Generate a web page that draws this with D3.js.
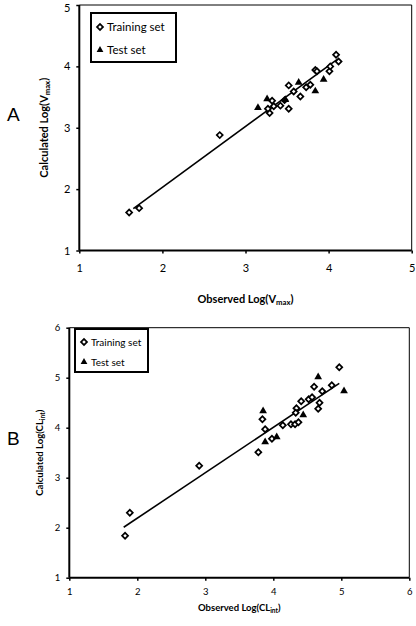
<!DOCTYPE html>
<html><head><meta charset="utf-8">
<script src="https://cdn.jsdelivr.net/npm/d3@7"></script>
<style>body{margin:0;background:#fff}svg{display:block}text{font-family:Lato,"Open Sans",sans-serif;fill:#000}</style>
</head><body><div id="c"></div>
<script>
// ---- Panel A data ----
const aTrainX = [1.60,1.72,2.69,3.29,3.27,3.32,3.34,3.42,3.47,3.52,3.52,3.58,3.66,3.73,3.78,3.84,3.86,4.01,4.02,4.09,4.12];
const aTrainY = [1.62,1.69,2.88,3.24,3.31,3.44,3.35,3.36,3.45,3.31,3.69,3.59,3.51,3.66,3.70,3.94,3.92,3.92,4.00,4.19,4.08];
const aTestX = [3.15,3.26,3.48,3.64,3.84,3.94];
const aTestY = [3.34,3.48,3.47,3.75,3.61,3.80];
const aFit = {slope:0.99, intercept:0.05, x0:1.65, x1:4.10};
const aTicksX = [1,2,3,4,5], aTicksY = [1,2,3,4,5];

// ---- Panel B data ----
const bTrainX = [1.82,1.89,2.91,3.78,3.84,3.88,3.98,4.14,4.26,4.32,4.37,4.34,4.33,4.41,4.52,4.57,4.60,4.66,4.68,4.72,4.86,4.97];
const bTrainY = [1.84,2.30,3.24,3.51,4.17,3.97,3.78,4.05,4.07,4.07,4.11,4.39,4.30,4.53,4.57,4.61,4.82,4.38,4.50,4.73,4.85,5.21];
const bTestX = [3.85,3.88,4.05,4.44,4.66,5.04];
const bTestY = [4.35,3.73,3.83,4.27,5.03,4.75];
const bFit = {slope:0.908, intercept:0.375, x0:1.80, x1:4.97};
const bTicksX = [1,2,3,4,5,6], bTicksY = [1,2,3,4,5,6];

const legendLabels = ["Training set","Test set"];

const svg = d3.select("#c").append("svg").attr("width",416).attr("height",626);

function panel(o){
  const g = svg.append("g");
  const x = d3.scaleLinear().domain(o.domain).range([o.left,o.right]);
  const y = d3.scaleLinear().domain(o.domain).range([o.bottom,o.top]);
  g.append("path").attr("d",`M${o.left},${o.top}H${o.right}V${o.bottom}`)
    .attr("fill","none").attr("stroke","#000").attr("stroke-width",1);
  const xa = g.append("g").attr("transform",`translate(0,${o.bottom})`)
    .call(d3.axisBottom(x).tickValues(o.ticksX).tickSize(3).tickPadding(o.xpad).tickFormat(d3.format("d")));
  const ya = g.append("g").attr("transform",`translate(${o.left},0)`)
    .call(d3.axisLeft(y).tickValues(o.ticksY).tickSize(3).tickPadding(6).tickFormat(d3.format("d")));
  [xa,ya].forEach(a=>{
    a.select(".domain").attr("stroke-width",2).attr("d", a===xa?`M${o.left},0H${o.right}`:`M0,${o.top}V${o.bottom}`);
    a.selectAll(".tick line").attr("stroke-width",1.5);
    a.selectAll("text").style("font-size",o.fs+"px").style("font-family","Lato,sans-serif");
  });
  // keep the top y label inside the page
  ya.selectAll(".tick text").filter(d=>d===o.domain[1]).attr("dy",o.topDy);
  g.append("line").attr("x1",x(o.fit.x0)).attr("y1",y(o.fit.slope*o.fit.x0+o.fit.intercept))
    .attr("x2",x(o.fit.x1)).attr("y2",y(o.fit.slope*o.fit.x1+o.fit.intercept))
    .attr("stroke","#000").attr("stroke-width",1.6);
  const dia = d3.symbol().type(d3.symbolSquare).size(18)();
  const tri = d3.symbol().type(d3.symbolTriangle).size(26)();
  g.selectAll(".tr").data(o.trX.map((v,i)=>[v,o.trY[i]])).join("path")
    .attr("d",dia).attr("transform",d=>`translate(${x(d[0])},${y(d[1])}) rotate(45)`)
    .attr("fill","#fff").attr("stroke","#000").attr("stroke-width",1.7);
  g.selectAll(".te").data(o.teX.map((v,i)=>[v,o.teY[i]])).join("path")
    .attr("d",tri).attr("transform",d=>`translate(${x(d[0])},${y(d[1])+0.8})`)
    .attr("fill","#000");
  const L = o.leg;
  g.append("rect").attr("x",L.x).attr("y",L.y).attr("width",L.w).attr("height",L.h)
    .attr("fill","#fff").attr("stroke","#000").attr("stroke-width",2);
  g.append("path").attr("d",dia).attr("transform",`translate(${L.x+9},${L.y1}) rotate(45)`)
    .attr("fill","#fff").attr("stroke","#000").attr("stroke-width",1.7);
  g.append("path").attr("d",d3.symbol().type(d3.symbolTriangle).size(20)()).attr("transform",`translate(${L.x+9},${L.y2})`)
    .attr("fill","#000");
  g.append("text").attr("x",L.x+16).attr("y",L.y1).attr("dy","0.35em").style("font-size",L.fs+"px").text(legendLabels[0]);
  g.append("text").attr("x",L.x+16).attr("y",L.y2).attr("dy","0.35em").style("font-size",L.fs+"px").text(legendLabels[1]);
  function title(t, main){
    t.append("tspan").text(main + " Log(" + o.base);
    t.append("tspan").text(o.sub).style("font-size",(o.tfs*0.7)+"px").attr("dy","2");
    t.append("tspan").text(")").attr("dy","-2");
  }
  const xt = g.append("text").attr("x",(o.left+o.right)/2).attr("y",o.xTitleY).attr("text-anchor","middle")
    .style("font-size",o.tfs+"px").style("font-weight","bold");
  title(xt,"Observed");
  const yt = g.append("text").attr("transform",`translate(${o.yTitleX},${(o.top+o.bottom)/2}) rotate(-90)`)
    .attr("text-anchor","middle").style("font-size",o.tfs+"px").style("font-weight","bold");
  title(yt,"Calculated");
  g.append("text").attr("x",7).attr("y",o.letterY).attr("dy","0.35em")
    .style("font-size","19px").style("font-family","'Liberation Sans',Arial,sans-serif").text(o.letter);
}

panel({domain:[1,5],left:79.3,right:411.7,top:5,bottom:250.5,ticksX:aTicksX,ticksY:aTicksY,
  trX:aTrainX,trY:aTrainY,teX:aTestX,teY:aTestY,fit:aFit,fs:11,tfs:11,xpad:11,topDy:"0.55em",
  leg:{x:91,y:13,w:85,h:49,y1:27,y2:50,fs:11.5},base:"V",sub:"max",
  xTitleY:303,yTitleX:48,letter:"A",letterY:114});
panel({domain:[1,6],left:69.3,right:409.3,top:327.7,bottom:577.7,ticksX:bTicksX,ticksY:bTicksY,
  trX:bTrainX,trY:bTrainY,teX:bTestX,teY:bTestY,fit:bFit,fs:9.5,tfs:9.5,xpad:8,topDy:"0.32em",
  leg:{x:75,y:329,w:73,h:43,y1:342,y2:362,fs:10},base:"CL",sub:"int",
  xTitleY:611,yTitleX:43,letter:"B",letterY:438});
</script></body></html>
